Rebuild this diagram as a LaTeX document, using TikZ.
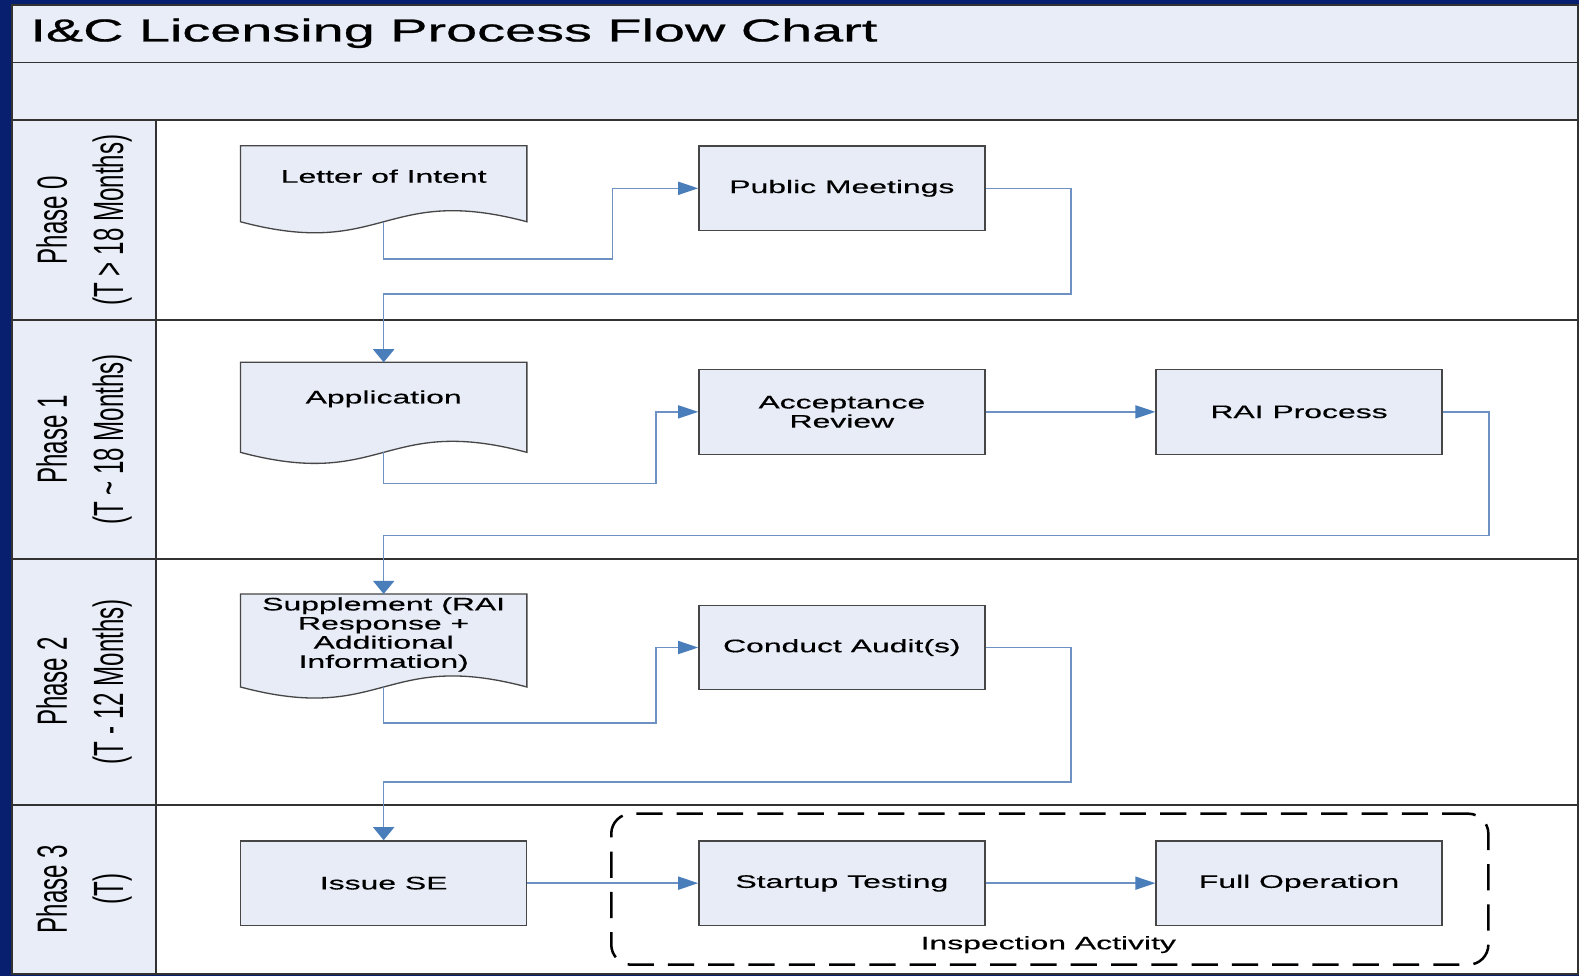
\documentclass[tikz,border=0pt]{standalone}
\usepackage{fontspec}
\usetikzlibrary{arrows.meta,calc}
\newfontfamily\boxfont[FakeStretch=1.76,FakeBold=0.4]{Liberation Sans}
\newfontfamily\titlefont[FakeStretch=1.76,FakeBold=0.8]{Liberation Sans}
\newfontfamily\phasefont[FakeStretch=0.57]{Liberation Sans}
\definecolor{navy}{RGB}{8,30,110}
\definecolor{lightband}{RGB}{232,237,247}
\definecolor{boxfill}{RGB}{231,236,246}
\definecolor{boxline}{RGB}{70,70,70}
\definecolor{lineblue}{RGB}{110,145,195}
\definecolor{tipblue}{RGB}{74,126,187}
\definecolor{frameline}{RGB}{50,50,50}
\newcommand\docpath[1]{%
  \draw[docline] (#1.south west) -- (#1.north west) -- (#1.north east) -- (#1.south east)
    .. controls ($(#1.south)+(0,-38)$) and ($(#1.south)+(0,38)$) .. (#1.south west) -- cycle;}
\begin{document}
\begin{tikzpicture}[x=1pt,y=-1pt,
  procbox/.style={draw=boxline, line width=1.3pt, fill=boxfill, minimum width=284pt,
    minimum height=84pt, inner sep=0pt, font={\boxfont\fontsize{18}{19}\selectfont}, align=center},
  docbox/.style={minimum width=284pt, inner sep=0pt},
  docline/.style={draw=boxline, line width=1.3pt, fill=boxfill},
  doctext/.style={inner sep=0pt, font={\boxfont\fontsize{18}{19}\selectfont}, align=center},
  phaselabel/.style={rotate=90, align=center, inner sep=0pt, font={\phasefont\fontsize{42}{56}\selectfont}},
  hconn/.style={draw=lineblue, line width=1.5pt, -{Triangle[length=20pt,width=13pt,color=tipblue]}},
  vconn/.style={draw=lineblue, line width=1.5pt, -{Triangle[length=13pt,width=21pt,color=tipblue]}},
  lanesep/.style={draw=frameline, line width=1.8pt}]
\useasboundingbox (0,0) rectangle (1568,969);
\fill[navy] (0,0) rectangle (1568,969);
\fill[lightband] (12,5) rectangle (1567,119);
\fill[white] (155,119) rectangle (1567,967);
\fill[lightband] (12,119) rectangle (155,967);
\foreach \yy in {62,119,318,555,799} \draw[lanesep] (12,\yy) -- (1567,\yy);
\draw[lanesep] (155,119) -- (155,967);
\draw[lanesep] (12,5) rectangle (1567,967);

\node[anchor=west, inner sep=0pt, font={\titlefont\fontsize{31.5}{32}\selectfont}] (title) at (30,33) {I\&C Licensing Process Flow Chart};

\node[phaselabel] (p0) at (83.5,218.5) {Phase 0\\(T > 18 Months)};
\node[phaselabel] (p1) at (83.5,436.5) {Phase 1\\(T \textasciitilde{} 18 Months)};
\node[phaselabel] (p2) at (83.5,677) {Phase 2\\(T - 12 Months)};
\node[phaselabel] (p3) at (83.5,883) {Phase 3\\(T)};

% documents
\node[docbox, minimum height=75pt] (loi) at (381,182.5) {};
\docpath{loi}
\node[doctext] (loit) at (381,175) {Letter of Intent};
\node[docbox, minimum height=89pt] (app) at (381,404.5) {};
\docpath{app}
\node[doctext] (appt) at (381,396) {Application};
\node[docbox, minimum height=92pt] (sup) at (381,636) {};
\docpath{sup}
\node[doctext] (supt) at (381,630) {Supplement (RAI\\Response +\\Additional\\Information)};

% process boxes
\node[procbox] (pm) at (836,187) {Public Meetings};
\node[procbox] (acc) at (836,409) {Acceptance\\Review};
\node[procbox] (rai) at (1290,409) {RAI Process};
\node[procbox] (aud) at (836,643) {Conduct Audit(s)};

\node[draw=black, line width=2.5pt, dash pattern=on 26pt off 14pt, rounded corners=20pt,
  minimum width=871pt, minimum height=150pt, inner sep=0pt] (insp) at (1042.5,883) {};
\node[doctext] (inspt) at (1041,938) {Inspection Activity};

\node[procbox] (ise) at (381,877) {Issue SE};
\node[procbox] (st) at (836,877) {Startup Testing};
\node[procbox] (fo) at (1290,877) {Full Operation};

% connectors
\draw[hconn] (loi.south) -- ++(0,37) -| ([xshift=-85pt]pm.west) -- (pm.west);
\draw[vconn] (pm.east) -- ++(85,0) |- ([yshift=68pt]app.north) -- (app.north);
\draw[hconn] (app.south) -- ++(0,31) -| ([xshift=-42pt]acc.west) -- (acc.west);
\draw[hconn] (acc.east) -- (rai.west);
\draw[vconn] (rai.east) -- ++(46,0) |- ([yshift=58pt]sup.north) -- (sup.north);
\draw[hconn] (sup.south) -- ++(0,36) -| ([xshift=-42pt]aud.west) -- (aud.west);
\draw[vconn] (aud.east) -- ++(85,0) |- ([yshift=58pt]ise.north) -- (ise.north);
\draw[hconn] (ise.east) -- (st.west);
\draw[hconn] (st.east) -- (fo.west);
\end{tikzpicture}
\end{document}
